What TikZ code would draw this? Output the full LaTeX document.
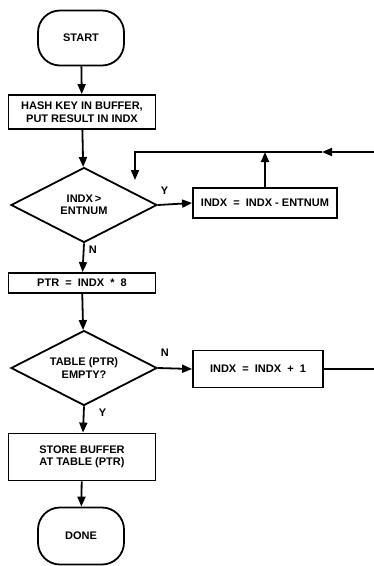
\documentclass[tikz,border=0pt]{standalone}
\usepackage{fontspec}
\setmainfont{Liberation Sans}
\usetikzlibrary{arrows.meta,shapes.geometric}

\begin{document}
\begin{tikzpicture}[
  x=1pt, y=1pt,
  font=\fontsize{11}{12.5}\selectfont\bfseries,
  block/.style={draw, line width=1.8pt, minimum width=147pt,
    minimum height=30pt, align=center, inner sep=2pt},
  terminal/.style={draw, line width=1.8pt, rounded corners=22pt,
    minimum width=86pt, minimum height=55pt, align=center},
  decision/.style={draw, line width=1.8pt, diamond, aspect=2, minimum width=146pt,
    minimum height=75pt, inner sep=0pt, align=center},
  arrow/.style={-{Triangle[length=10pt,width=8pt]}, line width=1.8pt},
  lbl/.style={inner sep=2pt}
]
\useasboundingbox (0,0) rectangle (373,-566);

\node[terminal] (start) at (81,-38) {START};
\node[block, minimum height=34pt] (hash) at (82,-112) {HASH KEY IN BUFFER,\\PUT RESULT IN INDX};
\node[decision] (cmp) at (84,-205) {INDX\,>\\ENTNUM};
\node[block, minimum width=144pt] (sub) at (265,-203) {INDX\ \ =\ \ INDX\ -\ ENTNUM};
\node[block, minimum height=20pt] (ptr) at (82,-283) {PTR\ \ =\ \ INDX\ \ *\ \ 8};
\node[decision] (empty) at (84,-368) {TABLE (PTR)\\EMPTY?};
\node[block, minimum width=130pt, minimum height=37pt] (inc) at (258,-369) {INDX\ \ =\ \ INDX\ \ +\ \ 1};
\node[block, minimum height=47pt] (store) at (82,-457) {STORE BUFFER\\AT TABLE (PTR)};
\node[terminal, minimum height=57pt] (done) at (81,-536) {DONE};

\coordinate (ret) at (385,-152);
\coordinate (mid) at (322,-152);
\coordinate (back) at (135,-152);
\coordinate (drop) at (135,-180);

\draw[arrow] (start) -- (hash);
\draw[arrow] (hash) -- (cmp);
\draw[arrow] (cmp.east) node[lbl, anchor=south west, yshift=8pt] {Y} -- (sub.west);
\draw[arrow] (sub.north) -- (sub.north |- back);
\draw[arrow] (ret) -- (mid);
\draw[arrow] (mid) -- (back) -- (drop);
\draw[arrow] (cmp.south) node[lbl, anchor=north west, xshift=2pt] {N} -- (ptr);
\draw[arrow] (ptr) -- (empty);
\draw[arrow] (empty.east) node[lbl, anchor=south west, yshift=9pt] {N} -- (inc.west);
\draw[line width=1.8pt] (inc.east) -| (ret);
\draw[arrow] (empty.south) node[lbl, anchor=north west, xshift=12pt] {Y} -- (store);
\draw[arrow] (store) -- (done);

\end{tikzpicture}
\end{document}
